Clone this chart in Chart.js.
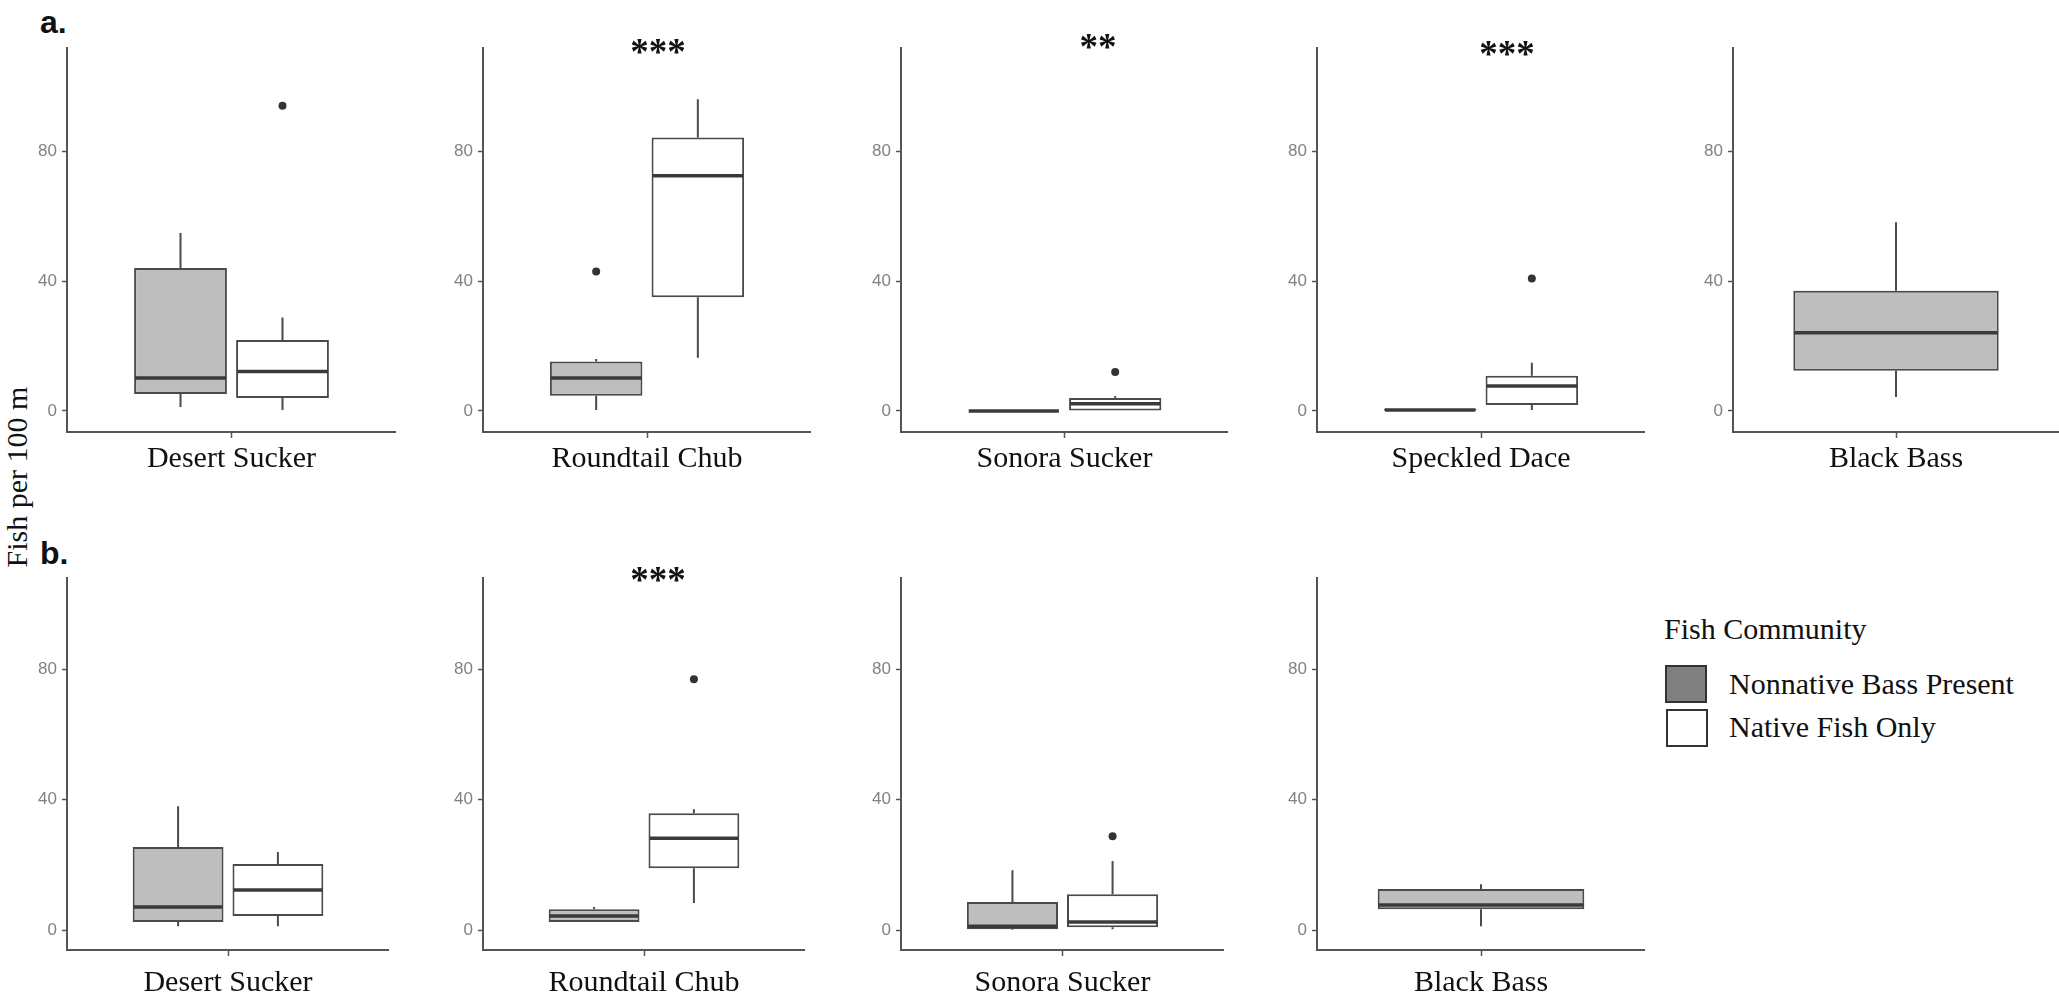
<!DOCTYPE html>
<html>
<head>
<meta charset="utf-8">
<script src="https://cdn.jsdelivr.net/npm/chart.js@4.4.1/dist/chart.umd.min.js"></script>
<style>
  body { margin: 0; background: #fff; width: 2059px; height: 1005px; overflow: hidden; position: relative; }
  .pane { position: absolute; }
  .txt { position: absolute; white-space: nowrap; color: #111; }
  .serif { font-family: 'Liberation Serif', 'Times New Roman', serif; }
  .panelTag { font-family: 'Liberation Sans', Arial, sans-serif; font-weight: bold; font-size: 32px; line-height: 1; }
  .stars { font-family: 'Liberation Serif', serif; font-weight: bold; font-size: 37px; line-height: 1; transform: translateX(-50%); }
  .swatch { position: absolute; width: 38px; height: 34px; border: 2px solid #333; }
</style>
</head>
<body>

<div class="txt panelTag" style="left:40px; top:6px;">a.</div>
<div class="txt panelTag" style="left:40px; top:537px;">b.</div>
<div class="txt serif" style="left:17px; top:477px; font-size:30px; transform: translate(-50%,-50%) rotate(-90deg);">Fish per 100 m</div>

<!-- legend -->
<div class="txt serif" style="left:1664px; top:612px; font-size:30px;">Fish Community</div>
<div class="swatch" style="left:1665px; top:665px; background:#808080;"></div>
<div class="txt serif" style="left:1729px; top:667px; font-size:30px;">Nonnative Bass Present</div>
<div class="swatch" style="left:1666px; top:709px; background:#fff;"></div>
<div class="txt serif" style="left:1729px; top:710px; font-size:30px;">Native Fish Only</div>

<script>
// ---- data ----
// each box: [lower whisker, Q1, median, Q3, upper whisker]
const speciesA = ['Desert Sucker', 'Roundtail Chub', 'Sonora Sucker', 'Speckled Dace', 'Black Bass'];
const bassA = [[1.2, 5.2, 10.1, 44, 54.8], [0.3, 4.7, 10.1, 15.2, 16], [0, 0, 0, 0, 0], [0, 0, 0.3, 0.6, 0.6], [4.3, 12.4, 24.1, 37, 58.1]];
const nativeA = [[0.3, 4, 12.1, 21.8, 28.8], [16.4, 35, 72.4, 84.2, 96], [0, 0, 2.2, 4, 4.6], [0.3, 1.8, 7.7, 10.8, 14.8], null];
const bassOutA = [[], [42.9], [], [], []];
const nativeOutA = [[94], [], [12], [40.8], []];
const starsA = ['', '***', '**', '***', ''];

const speciesB = ['Desert Sucker', 'Roundtail Chub', 'Sonora Sucker', 'Black Bass'];
const bassB = [[1.2, 2.5, 7.1, 25.5, 38], [2.5, 2.5, 4.3, 6.4, 7.1], [0, 0.3, 1.2, 8.6, 18.4], [1.2, 6.4, 7.7, 12.6, 14.1]];
const nativeB = [[1.2, 4.3, 12.3, 20.3, 24], [8.3, 19, 28.2, 35.9, 37.1], [0.3, 0.9, 2.5, 11, 21.2], null];
const bassOutB = [[], [], [], []];
const nativeOutB = [[], [77], [28.8], []];
const starsB = ['', '***', '', ''];

const tickValues = [0, 40, 80];

// ---- layout ----
const Y_W = 55, TOP_PAD = 15, X_H = 56;
const rowA = { top: 48, bottom: 432, min: -6.5, max: 111.7, labelPad: 3,
    left: [67, 483, 901, 1317, 1733], right: [396, 811, 1228, 1645, 2059],
    starX: [0, 658, 1098, 1507, 0], starY: [0, 45, 40, 47, 0] };
const rowB = { top: 578, bottom: 950, min: -6.1, max: 108, labelPad: 9,
    left: [67, 483, 901, 1317], right: [389, 805, 1224, 1645],
    starX: [0, 658, 0, 0], starY: [0, 573, 0, 0] };

const boxPlugin = {
    id: 'boxes',
    afterDatasetsDraw(chart) {
        const ctx = chart.ctx;
        const y = chart.scales.y;
        chart.data.datasets.forEach((ds, di) => {
            const meta = chart.getDatasetMeta(di);
            meta.data.forEach((bar, i) => {
                const s = ds.stats[i];
                const half = bar.width / 2;
                ctx.save();
                ctx.strokeStyle = '#4a4a4a';
                ctx.lineWidth = 2;
                ctx.beginPath();
                if (s[4] > s[3]) { ctx.moveTo(bar.x, y.getPixelForValue(s[3])); ctx.lineTo(bar.x, y.getPixelForValue(s[4])); }
                if (s[0] < s[1]) { ctx.moveTo(bar.x, y.getPixelForValue(s[1])); ctx.lineTo(bar.x, y.getPixelForValue(s[0])); }
                ctx.stroke();
                ctx.strokeStyle = '#3a3a3a';
                ctx.lineWidth = 3.5;
                ctx.beginPath();
                ctx.moveTo(bar.x - half + 1, y.getPixelForValue(s[2]));
                ctx.lineTo(bar.x + half - 1, y.getPixelForValue(s[2]));
                ctx.stroke();
                ctx.fillStyle = '#333';
                ds.outliers[i].forEach(v => {
                    ctx.beginPath();
                    ctx.arc(bar.x, y.getPixelForValue(v), 4, 0, Math.PI * 2);
                    ctx.fill();
                });
                ctx.restore();
            });
        });
    }
};

function addPanel(row, idx, name, bass, native, bassOut, nativeOut, stars) {
    const left = row.left[idx] - Y_W;
    const top = row.top - TOP_PAD;
    const w = row.right[idx] - row.left[idx] + Y_W;
    const h = row.bottom - row.top + TOP_PAD + X_H;
    const div = document.createElement('div');
    div.className = 'pane';
    div.style.left = left + 'px';
    div.style.top = top + 'px';
    const cv = document.createElement('canvas');
    cv.width = w; cv.height = h;
    div.appendChild(cv);
    document.body.appendChild(div);

    const single = native === null;
    const datasets = [{
        label: 'Nonnative Bass Present',
        data: [[bass[1], bass[3]]],
        stats: [bass], outliers: [bassOut],
        backgroundColor: '#bebebe', borderColor: '#4a4a4a', borderWidth: 2, borderSkipped: false,
        categoryPercentage: single ? 0.63 : 0.62, barPercentage: single ? 1 : 0.91
    }];
    if (!single) {
        datasets.push({
            label: 'Native Fish Only',
            data: [[native[1], native[3]]],
            stats: [native], outliers: [nativeOut],
            backgroundColor: '#ffffff', borderColor: '#4a4a4a', borderWidth: 2, borderSkipped: false,
            categoryPercentage: 0.62, barPercentage: 0.91
        });
    }

    new Chart(cv.getContext('2d'), {
        type: 'bar',
        data: { labels: [name], datasets: datasets },
        options: {
            responsive: false, animation: false, devicePixelRatio: 1,
            layout: { padding: { top: TOP_PAD, left: 0, right: 0, bottom: 0 } },
            plugins: { legend: { display: false }, tooltip: { enabled: false } },
            scales: {
                x: {
                    grid: { drawOnChartArea: false, offset: false, tickLength: 6, tickColor: '#555', tickWidth: 1.5 },
                    border: { color: '#555', width: 2 },
                    ticks: { color: '#111', padding: row.labelPad, font: { family: "'Liberation Serif', 'Times New Roman', serif", size: 30 } },
                    afterFit: s => { s.height = X_H; }
                },
                y: {
                    min: row.min, max: row.max,
                    afterBuildTicks: s => { s.ticks = tickValues.map(v => ({ value: v })); },
                    grid: { drawOnChartArea: false, tickLength: 5, tickColor: '#555', tickWidth: 1.5 },
                    border: { color: '#555', width: 2 },
                    ticks: { color: '#85817b', padding: 5, font: { family: "'Liberation Sans', Arial, sans-serif", size: 17 } },
                    afterFit: s => { s.width = Y_W; }
                }
            }
        },
        plugins: [boxPlugin]
    });

    if (stars) {
        const st = document.createElement('div');
        st.className = 'txt stars';
        st.textContent = stars;
        st.style.left = row.starX[idx] + 'px';
        st.style.top = (row.starY[idx] - 12) + 'px';
        document.body.appendChild(st);
    }
}

speciesA.forEach((n, i) => addPanel(rowA, i, n, bassA[i], nativeA[i], bassOutA[i], nativeOutA[i], starsA[i]));
speciesB.forEach((n, i) => addPanel(rowB, i, n, bassB[i], nativeB[i], bassOutB[i], nativeOutB[i], starsB[i]));
</script>
</body>
</html>
